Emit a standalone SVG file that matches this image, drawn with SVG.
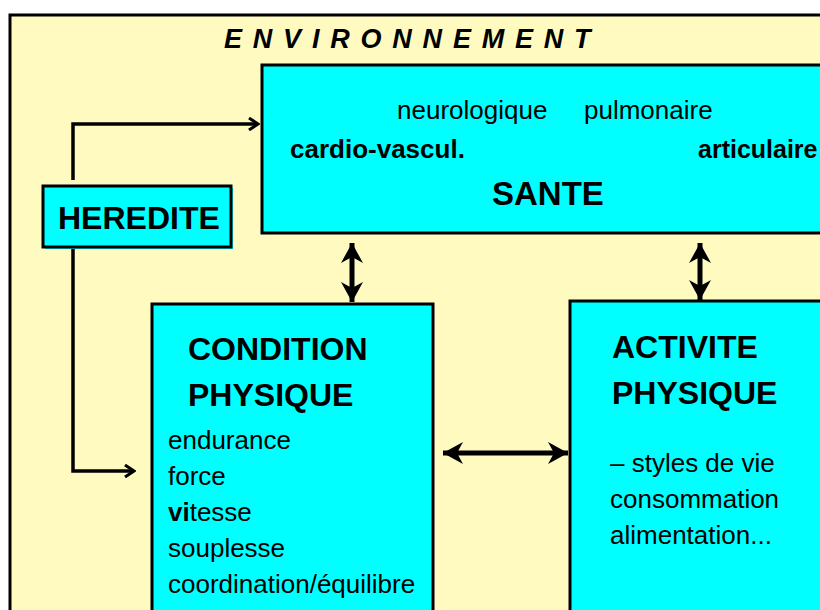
<svg xmlns="http://www.w3.org/2000/svg" width="820" height="610" viewBox="0 0 820 610">
<style>
.box{fill:#00FFFF;stroke:#000;stroke-width:3}
.t{font-family:"Liberation Sans",Arial,sans-serif;fill:#000}
.b{font-weight:bold}
.n{font-size:26px}
.h{font-size:32px;font-weight:bold}
.ln{fill:none;stroke:#000;stroke-width:3.5}
.dl{fill:none;stroke:#000;stroke-width:5}
</style>
<defs>
<marker id="dbl" markerUnits="userSpaceOnUse" markerWidth="26" markerHeight="26" viewBox="-22 -13 26 26" refX="0" refY="0" orient="auto-start-reverse">
<path d="M0,0 L-20,-11 L-14,0 L-20,11 Z" fill="#000"/>
</marker>
<marker id="opn" markerUnits="userSpaceOnUse" markerWidth="14" markerHeight="14" viewBox="-12 -7 14 14" refX="0" refY="0" orient="auto">
<path d="M-9,-6 L0,0 L-9,6" fill="none" stroke="#000" stroke-width="3"/>
</marker>
</defs>
<rect width="820" height="610" fill="#fff"/>
<g id="environnement">
<rect x="10" y="15" width="830" height="620" fill="#FFFBC0" stroke="#000" stroke-width="3"/>
<text class="t b" x="224" y="48" font-size="27" font-style="italic" letter-spacing="10.8">ENVIRONNEMENT</text>
</g>
<g id="sante">
<rect class="box" x="262" y="65" width="580" height="168"/>
<text class="t n" x="397" y="119">neurologique</text>
<text class="t n" x="584" y="119">pulmonaire</text>
<text class="t n b" x="290" y="158">cardio-vascul.</text>
<text class="t b" x="698" y="158" font-size="25">articulaire</text>
<text class="t b" x="492" y="205" font-size="33">SANTE</text>
</g>
<g id="heredite">
<rect x="45" y="188" width="188" height="61" fill="#00FFFF"/>
<rect class="box" x="43" y="186" width="188" height="61"/>
<text class="t h" x="58" y="229">HEREDITE</text>
</g>
<g id="condition">
<rect class="box" x="152" y="304" width="281" height="330"/>
<text class="t h" x="188" y="360">CONDITION</text>
<text class="t h" x="188" y="406">PHYSIQUE</text>
<text class="t n" x="168" y="449">endurance</text>
<text class="t n" x="168" y="485">force</text>
<text class="t n" x="168" y="521"><tspan class="b">vi</tspan>tesse</text>
<text class="t n" x="168" y="557">souplesse</text>
<text class="t n" x="168" y="593">coordination/équilibre</text>
</g>
<g id="activite">
<rect class="box" x="570" y="301" width="280" height="330"/>
<text class="t h" x="612" y="358">ACTIVITE</text>
<text class="t h" x="612" y="404">PHYSIQUE</text>
<text class="t n" x="610" y="472">– styles de vie</text>
<text class="t n" x="610" y="508">consommation</text>
<text class="t n" x="610" y="544">alimentation...</text>
</g>
<g id="connectors">
<path class="ln" d="M73,180 L73,124 L258,124" marker-end="url(#opn)"/>
<path class="ln" d="M73,249 L73,471 L134,471" marker-end="url(#opn)"/>
<line class="dl" x1="352" y1="243" x2="352" y2="302" marker-start="url(#dbl)" marker-end="url(#dbl)"/>
<line class="dl" x1="700" y1="243" x2="700" y2="300" marker-start="url(#dbl)" marker-end="url(#dbl)"/>
<line class="dl" x1="443" y1="453" x2="568" y2="453" marker-start="url(#dbl)" marker-end="url(#dbl)"/>
</g>
</svg>
